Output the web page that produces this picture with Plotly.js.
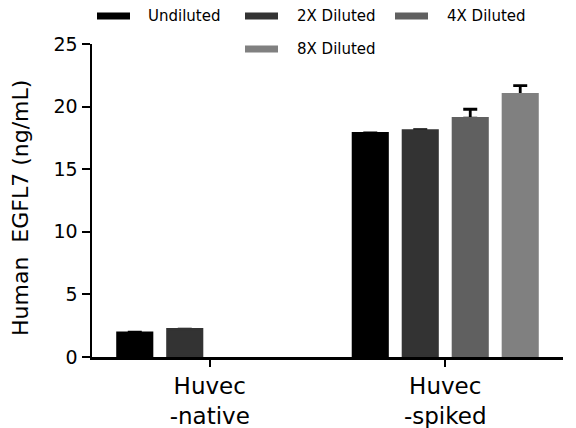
<!DOCTYPE html>
<html>
<head>
<meta charset="utf-8">
<script src="https://cdn.plot.ly/plotly-3.0.1.min.js"></script>
<style>html,body{margin:0;padding:0;background:#fff;}#chart{width:576px;height:428px;}</style>
</head>
<body>
<div id="chart"></div>
<script>
var categories = ["Huvec<br>-native", "Huvec<br>-spiked"];
var seriesNames = ["Undiluted", "2X Diluted", "4X Diluted", "8X Diluted"];
var yTitle = "Human  EGFL7 (ng/mL)";
var undiluted = [1.94, 17.87];
var diluted2x = [2.21, 18.08];
var diluted4x = [null, 19.07];
var diluted8x = [null, 20.98];
var undilutedErr = [0.05, 0.03];
var diluted2xErr = [0.02, 0.08];
var diluted4xErr = [0, 0.72];
var diluted8xErr = [0, 0.69];
var colors = ["#000000", "#333333", "#606060", "#808080"];

var values = [undiluted, diluted2x, diluted4x, diluted8x];
var errs = [undilutedErr, diluted2xErr, diluted4xErr, diluted8xErr];

var FONT = "DejaVu Sans, sans-serif";
var W = 576, H = 428;
var L = 92, R = 13, T = 44, B = 71;
var pw = W - L - R, ph = H - T - B;
function px(x) { return (x - L) / pw; }
function py(y) { return (H - B - y) / ph; }

var traces = [];
// error-bar carriers first (upper bars only); the visible bars drawn on top hide the lower caps
values.forEach(function (v, i) {
  traces.push({
    type: "bar", x: categories, y: v, offsetgroup: "g" + i,
    marker: {color: "rgba(0,0,0,0)", line: {width: 0}},
    error_y: {type: "data", symmetric: false, array: errs[i],
              arrayminus: errs[i].map(function () { return 0; }),
              color: "#000", thickness: 2.8, width: 7},
    showlegend: false, hoverinfo: "skip"
  });
});
values.forEach(function (v, i) {
  traces.push({
    type: "bar", name: seriesNames[i], x: categories, y: v, offsetgroup: "g" + i,
    marker: {color: colors[i], line: {width: 2.6, color: colors[i]}},
    showlegend: false
  });
});

// legend drawn as shapes + text
var legendPos = [
  {sx: 97, tx: 146, y: 16},
  {sx: 245, tx: 295, y: 16},
  {sx: 395, tx: 445, y: 16},
  {sx: 245, tx: 295, y: 49}
];
var shapes = [], annotations = [];
legendPos.forEach(function (p, i) {
  shapes.push({type: "rect", xref: "paper", yref: "paper",
    x0: px(p.sx), x1: px(p.sx + 33), y0: py(p.y + 3.5), y1: py(p.y - 3.5),
    fillcolor: colors[i], line: {width: 0}});
  annotations.push({xref: "paper", yref: "paper", x: px(p.tx), y: py(p.y),
    xanchor: "left", yanchor: "middle", showarrow: false, text: seriesNames[i],
    font: {family: FONT, size: 15, color: "#000"}});
});
// y-axis title
annotations.push({xref: "paper", yref: "paper", x: px(21), y: py(208),
  xanchor: "center", yanchor: "middle", textangle: -90, showarrow: false,
  text: yTitle, font: {family: FONT, size: 22, color: "#000"}});

var layout = {
  width: W, height: H,
  margin: {l: L, r: R, t: T, b: B, pad: 0},
  paper_bgcolor: "#fff", plot_bgcolor: "#fff",
  barmode: "group",
  bargap: 0.151,
  bargroupgap: 0.31,
  font: {family: FONT, color: "#000"},
  xaxis: {
    type: "category",
    range: [-0.5, 1.5],
    showline: true, linecolor: "#000", linewidth: 2.5,
    ticks: "outside", ticklen: 7, tickwidth: 2, tickcolor: "#000",
    tickfont: {family: FONT, size: 23, color: "#000"},
    showgrid: false, zeroline: false, fixedrange: true
  },
  yaxis: {
    range: [0, 25],
    tickvals: [0, 5, 10, 15, 20, 25],
    showline: true, linecolor: "#000", linewidth: 2.5,
    ticks: "outside", ticklen: 8, tickwidth: 2, tickcolor: "#000",
    tickfont: {family: FONT, size: 19, color: "#000"},
    showgrid: false, zeroline: false
  },
  shapes: shapes,
  annotations: annotations
};

Plotly.newPlot("chart", traces, layout, {displayModeBar: false, staticPlot: true});
</script>
</body>
</html>
